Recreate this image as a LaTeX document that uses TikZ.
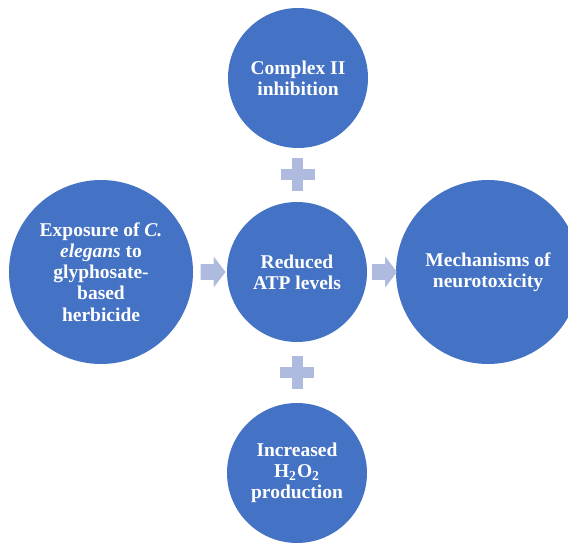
\documentclass[tikz,border=0pt]{standalone}
\usepackage{fontspec}
\setmainfont{Liberation Serif}
\usetikzlibrary{shapes.arrows,calc}
\definecolor{circblue}{RGB}{68,114,196}
\definecolor{paleblue}{RGB}{174,186,222}
\tikzset{
  centered/.style = { align=center, anchor=center },
    bubble/.style = { circle, fill=circblue, text=white, centered, inner sep=0pt,
                      font=\fontsize{9.75}{10.6}\selectfont\bfseries },
     small/.style = { bubble, minimum size=70pt },
       big/.style = { bubble, minimum size=92pt },
blockarrow/.style = { single arrow, fill=paleblue, inner sep=3.75pt, minimum width=0pt,
                      minimum height=12.5pt, single arrow head extend=3.75pt,
                      single arrow tip angle=105 },
  plussign/.pic   = { \fill[paleblue] (-17,-5.5) rectangle (17,5.5);
                      \fill[paleblue] (-5.5,-16.5) rectangle (5.5,16.5); }
}

\begin{document}
\begin{tikzpicture}[x=0.5pt, y=0.5pt]
  \useasboundingbox (0,0) rectangle (568,542);

  \node[small] (atp)    at (297,270) {Reduced\\ATP levels};
  \node[small] (cplx)   at (298,464) {Complex II\\inhibition};
  \node[small] (hperox) at (297,69)  {Increased\\H\textsubscript{2}O\textsubscript{2}\\production};
  \node[big]   (expo)   at (101,270) {Exposure of \textit{C.}\\\textit{elegans} to\\glyphosate-\\based\\herbicide};
  \node[big]   (neuro)  at (488,270) {Mechanisms of\\neurotoxicity};

  \node[blockarrow] (a1) at ($(expo.east)!0.5!(atp.west)$) {};
  \node[blockarrow] (a2) at ($(atp.east)!0.5!(neuro.west)$) {};

  \pic at ($(cplx.south)!0.5!(atp.north)$) {plussign};
  \pic at ($(atp.south)!0.5!(hperox.north)$) {plussign};

\end{tikzpicture}
\end{document}
